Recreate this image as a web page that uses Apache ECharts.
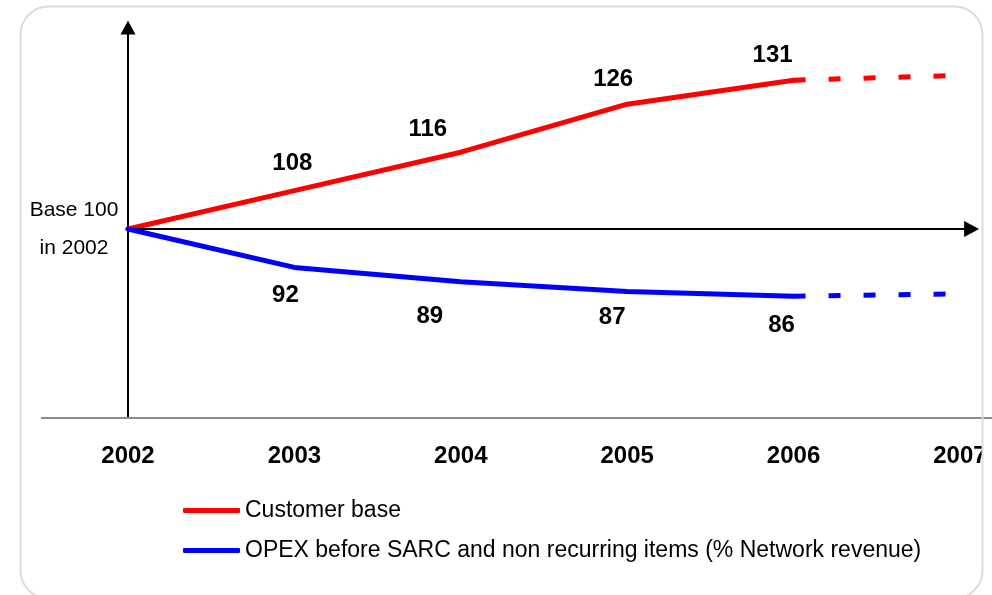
<!DOCTYPE html>
<html>
<head>
<meta charset="utf-8">
<title>Customer base and OPEX, base 100 in 2002</title>
<script src="https://cdn.jsdelivr.net/npm/echarts@6/dist/echarts.min.js"></script>
<style>
  html, body { margin: 0; padding: 0; background: #fff; }
  #chart { width: 992px; height: 595px; }
</style>
</head>
<body>
<div id="chart"></div>
<script>
// ---- data ----
const years = [2002, 2003, 2004, 2005, 2006];
const outlookYears = [2006, 2007];
const yearTicks = [2002, 2003, 2004, 2005, 2006, 2007];

const customerBase = [100, 108, 116, 126, 131];
const customerBaseOutlook = [131, 132];

const opex = [100, 92, 89, 87, 86];
const opexOutlook = [86, 86.5];

const seriesNames = [
  'Customer base',
  'OPEX before SARC and non recurring items (% Network revenue)'
];
const baseValue = 100;
const baseLabel = 'Base 100\nin 2002';

// ---- callout placement (px nudges from each point, per year) ----
const customerLabelShift = [null, [-2, -27], [-33, -23], [-14, -25], [-21, -25]];
const opexLabelShift = [null, [-9, 28], [-31, 35], [-15, 26], [-12, 29]];

const FONT = '"Liberation Sans", Arial, Helvetica, sans-serif';
const RED = '#ff0000';
const BLUE = '#0000ff';

function buildPoints(xs, vs, shifts) {
  return xs.map(function (x, i) {
    const item = { value: [x, vs[i]] };
    if (shifts) {
      item.label = shifts[i] ? { show: true, offset: shifts[i] } : { show: false };
    }
    return item;
  });
}

function solidSeries(name, color, xs, vs, shifts, z) {
  return {
    name: name,
    type: 'line',
    data: buildPoints(xs, vs, shifts),
    symbol: 'circle',
    symbolSize: 1,
    showSymbol: true,
    z: z,
    lineStyle: { color: color, width: 5, cap: 'round', join: 'round' },
    itemStyle: { color: color },
    label: {
      show: true,
      position: 'inside',
      color: '#000',
      fontFamily: FONT,
      fontSize: 24,
      fontWeight: 'bold',
      formatter: function (p) { return String(p.value[1]); }
    },
    emphasis: { disabled: true },
    animation: false
  };
}

function dashedSeries(name, color, xs, vs, z) {
  return {
    name: name,
    type: 'line',
    data: buildPoints(xs, vs, null),
    symbol: 'none',
    z: z,
    lineStyle: { color: color, width: 5, type: [12, 23], cap: 'butt' },
    itemStyle: { color: color },
    emphasis: { disabled: true },
    animation: false
  };
}

const series = [
  solidSeries(seriesNames[0], RED, years, customerBase, customerLabelShift, 4),
  solidSeries(seriesNames[1], BLUE, years, opex, opexLabelShift, 5),
  dashedSeries('Customer base (2007 outlook)', RED, outlookYears, customerBaseOutlook, 3),
  dashedSeries('OPEX (2007 outlook)', BLUE, outlookYears, opexOutlook, 3)
];

// horizontal arrow through the base-100 level
series[3].markLine = {
  silent: true,
  symbol: ['none', 'triangle'],
  symbolSize: [16, 15],
  label: { show: false },
  lineStyle: { color: '#000', width: 2, type: 'solid' },
  emphasis: { disabled: true },
  data: [{ yAxis: baseValue }],
  animation: false
};

const chart = echarts.init(document.getElementById('chart'), null, { renderer: 'canvas' });

chart.setOption({
  backgroundColor: '#fff',
  animation: false,
  textStyle: { fontFamily: FONT },
  grid: {
    left: 128,
    right: 20.4,
    top: 27.4,
    bottom: 178.8,
    outerBoundsMode: 'none',
    containLabel: false
  },
  xAxis: {
    type: 'value',
    min: 2002,
    max: 2007.07,
    interval: 1,
    axisLine: { show: false },
    axisTick: { show: false },
    splitLine: { show: false },
    axisLabel: {
      customValues: yearTicks,
      margin: 28,
      color: '#000',
      fontFamily: FONT,
      fontSize: 24,
      fontWeight: 'bold',
      formatter: function (v) { return String(v); }
    }
  },
  yAxis: {
    type: 'value',
    min: 61,
    max: 142,
    axisLine: {
      show: true,
      symbol: ['none', 'triangle'],
      symbolSize: [15, 14],
      lineStyle: { color: '#000', width: 2 }
    },
    axisTick: { show: false },
    splitLine: { show: false },
    axisLabel: {
      customValues: [baseValue],
      align: 'center',
      margin: 54,
      color: '#000',
      fontFamily: FONT,
      fontSize: 21,
      lineHeight: 38,
      padding: [3, 0, 0, 0],
      formatter: function (v) { return v === baseValue ? baseLabel : ''; }
    }
  },
  legend: {
    data: seriesNames,
    orient: 'vertical',
    left: 183,
    top: 499,
    padding: 0,
    itemWidth: 57,
    itemHeight: 5,
    itemGap: 17,
    icon: 'roundRect',
    selectedMode: false,
    textStyle: { color: '#000', fontFamily: FONT, fontSize: 23 }
  },
  graphic: [
    {
      // baseline rule under the plot
      type: 'line',
      z: 90,
      silent: true,
      shape: { x1: 41, y1: 418, x2: 992, y2: 418 },
      style: { stroke: '#8a8a8a', lineWidth: 2 }
    },
    {
      // keep the year labels inside the frame
      type: 'rect',
      z: 99,
      silent: true,
      shape: { x: 982, y: 432, width: 10, height: 46 },
      style: { fill: '#fff' }
    },
    {
      // rounded frame
      type: 'rect',
      z: 100,
      silent: true,
      shape: { x: 20.5, y: 6.5, width: 962, height: 592, r: 28 },
      style: { fill: 'none', stroke: '#dcdcdc', lineWidth: 2 }
    }
  ],
  series: series
});
</script>
</body>
</html>
